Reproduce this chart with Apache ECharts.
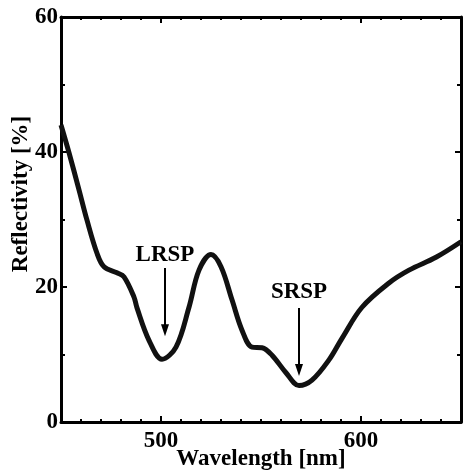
<!DOCTYPE html>
<html>
<head>
<meta charset="utf-8">
<script src="https://cdn.jsdelivr.net/npm/echarts@6/dist/echarts.min.js"></script>
<style>
  html, body { margin: 0; padding: 0; background: #fff; }
  #chart { width: 463px; height: 474px; }
</style>
</head>
<body>
<div id="chart"></div>
<script>
// wavelength (nm) and reflectivity (%)
const wavelength = [450, 454, 459, 463, 468, 471.5, 478, 481.5, 486.5, 488, 494, 500.5, 507.5, 514, 519, 525, 530, 535.5, 540.5, 545.5, 550.5, 555.5, 562.5, 569, 575.5, 584, 590.5, 600.5, 614, 624, 637.5, 650];
const reflectivity = [44.0, 39.9, 34.4, 29.9, 25.0, 23.0, 22.1, 21.5, 18.5, 16.9, 12.1, 9.3, 11.1, 17.0, 22.5, 24.8, 23.0, 18.1, 13.6, 11.1, 11.0, 9.9, 7.3, 5.4, 6.2, 9.2, 12.4, 17.0, 20.6, 22.5, 24.4, 26.7];

const xTickLabels = [500, 600];
const yTickLabels = [0, 20, 40, 60];

// resonance markers: name, wavelength, arrow top/bottom and label height (in %)
const markNames = ["LRSP", "SRSP"];
const markWavelength = [502, 569];
const arrowTop = [22.8, 16.9];
const arrowBottom = [13.6, 7.7];
const labelAt = [24.7, 19.2];

const font = "Liberation Serif";
const chart = echarts.init(document.getElementById("chart"));

const baseX = {
  type: "value",
  min: 450,
  max: 650,
  splitLine: { show: false },
};
const baseY = {
  type: "value",
  min: 0,
  max: 60,
  interval: 20,
  splitLine: { show: false },
};

chart.setOption({
  animation: false,
  grid: { left: 61, right: 2, top: 17, bottom: 52, outerBoundsMode: "none" },
  xAxis: [
    {
      ...baseX,
      position: "bottom",
      axisLine: { lineStyle: { color: "#000", width: 3 } },
      axisTick: { inside: true, length: 6, customValues: xTickLabels, lineStyle: { color: "#000", width: 2 } },
      axisLabel: { customValues: xTickLabels, color: "#000", fontFamily: font, fontWeight: "bold", fontSize: 23, margin: 8 },
      name: "Wavelength [nm]",
      nameLocation: "middle",
      nameGap: 26,
      nameMoveOverlap: false,
      nameTextStyle: { color: "#000", fontFamily: font, fontWeight: "bold", fontSize: 23 },
    },
    {
      ...baseX,
      position: "bottom",
      interval: 10,
      axisLine: { show: false },
      axisTick: { inside: true, length: 3, lineStyle: { color: "#000", width: 2 } },
      axisLabel: { show: false },
    },
    {
      ...baseX,
      position: "top",
      axisLine: { lineStyle: { color: "#000", width: 3 } },
      axisTick: { inside: true, length: 6, customValues: xTickLabels, lineStyle: { color: "#000", width: 2 } },
      axisLabel: { show: false },
    },
    {
      ...baseX,
      position: "top",
      interval: 10,
      axisLine: { show: false },
      axisTick: { inside: true, length: 3, lineStyle: { color: "#000", width: 2 } },
      axisLabel: { show: false },
    },
  ],
  yAxis: [
    {
      ...baseY,
      position: "left",
      axisLine: { lineStyle: { color: "#000", width: 3 } },
      axisTick: { inside: true, length: 6, lineStyle: { color: "#000", width: 2 } },
      minorTick: { show: true, splitNumber: 2, length: 4, lineStyle: { color: "#000", width: 2 } },
      axisLabel: {
        color: "#000", fontFamily: font, fontWeight: "bold", fontSize: 23, margin: 3,
        formatter: (v) => (yTickLabels.includes(v) ? String(v) : ""),
      },
      name: "Reflectivity [%]",
      nameLocation: "middle",
      nameGap: 28,
      nameMoveOverlap: false,
      nameTextStyle: { color: "#000", fontFamily: font, fontWeight: "bold", fontSize: 23, padding: [0, 0, 0, 51] },
    },
    {
      ...baseY,
      position: "right",
      axisLine: { lineStyle: { color: "#000", width: 3 } },
      axisTick: { inside: true, length: 6, lineStyle: { color: "#000", width: 2 } },
      minorTick: { show: true, splitNumber: 2, length: 4, lineStyle: { color: "#000", width: 2 } },
      axisLabel: { show: false },
    },
  ],
  series: [
    {
      type: "line",
      xAxisIndex: 0,
      yAxisIndex: 0,
      data: wavelength.map((w, i) => [w, reflectivity[i]]),
      smooth: 0.35,
      showSymbol: false,
      lineStyle: { color: "#111", width: 5 },
      silent: true,
      markLine: {
        silent: true,
        symbol: ["none", "triangle"],
        symbolSize: [8, 12],
        lineStyle: { color: "#000", width: 2, type: "solid" },
        label: { show: false },
        data: markNames.map((n, i) => [
          { coord: [markWavelength[i], arrowTop[i]] },
          { coord: [markWavelength[i], arrowBottom[i]] },
        ]),
      },
      markPoint: {
        silent: true,
        symbol: "circle",
        symbolSize: 1,
        itemStyle: { color: "transparent" },
        label: {
          show: true,
          position: "inside",
          color: "#000",
          fontFamily: font,
          fontWeight: "bold",
          fontSize: 23,
          formatter: (p) => p.name,
        },
        data: markNames.map((n, i) => ({ name: n, coord: [markWavelength[i], labelAt[i]] })),
      },
    },
  ],
});
</script>
</body>
</html>
